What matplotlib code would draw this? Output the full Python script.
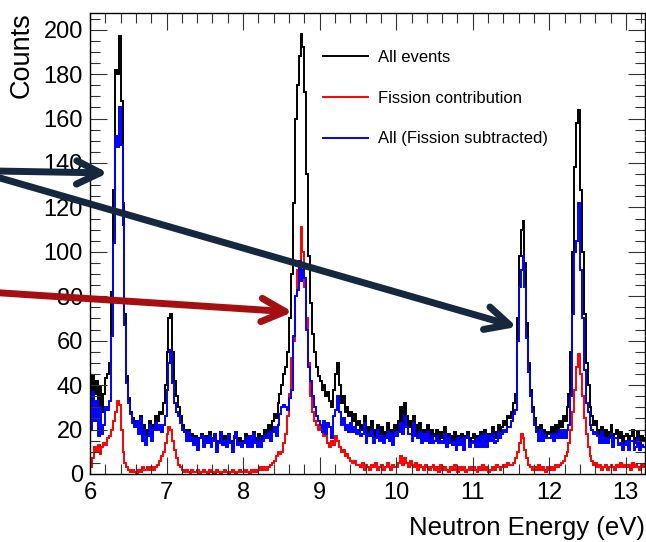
import numpy as np
import matplotlib
matplotlib.use('Agg')
import matplotlib.pyplot as plt
from matplotlib.ticker import MultipleLocator

plt.rcParams['font.family'] = ['Liberation Sans', 'DejaVu Sans']

# histogram binning (eV)
e_lo = 6.0
bin_w = 0.025

# All events, 20 bins per 0.5 eV row
all_events = [
    30, 44, 36, 42, 30, 39, 28, 36, 43, 45, 50, 82, 128, 182, 180, 197, 168, 122, 72, 44,
    34, 28, 25, 22, 24, 20, 26, 18, 22, 15, 20, 24, 18, 22, 26, 24, 28, 27, 32, 40,
    55, 70, 72, 55, 42, 35, 30, 26, 22, 20, 17, 20, 15, 18, 14, 17, 13, 16, 18, 14,
    17, 14, 19, 13, 16, 18, 12, 15, 19, 14, 17, 13, 18, 15, 12, 17, 19, 14, 16, 13,
    15, 18, 13, 17, 14, 19, 16, 13, 18, 15, 17, 20, 18, 22, 19, 24, 27, 25, 32, 36,
    40, 45, 48, 55, 70, 90, 122, 160, 175, 188, 198, 192, 172, 135, 98, 77, 63, 55, 48, 44,
    42, 38, 40, 35, 37, 33, 30, 38, 45, 50, 40, 32, 35, 28, 30, 26, 28, 24, 27, 22,
    24, 20, 22, 26, 18, 21, 19, 24, 17, 20, 22, 18, 21, 16, 19, 23, 18, 20, 17, 22,
    20, 24, 30, 22, 32, 26, 21, 24, 19, 26, 22, 18, 23, 17, 20, 19, 22, 16, 20, 18,
    17, 20, 15, 19, 16, 21, 14, 18, 17, 15, 19, 13, 17, 16, 18, 14, 17, 19, 15, 16,
    18, 14, 17, 15, 19, 16, 20, 15, 18, 17, 21, 16, 19, 22, 18, 21, 24, 22, 26, 25,
    28, 32, 36, 70, 98, 110, 114, 95, 68, 50, 38, 30, 25, 21, 19, 22, 18, 20, 17, 19,
    18, 21, 17, 22, 19, 24, 21, 26, 24, 30, 36, 55, 100, 138, 158, 164, 128, 100, 72, 50,
    40, 30, 26, 22, 24, 20, 18, 21, 17, 20, 16, 19, 22, 15, 18, 20, 16, 19, 14, 17,
    18, 15, 17, 20, 14, 16, 19, 13, 17, 15, 16,
]

fission = [
    3, 7, 12, 10, 13, 9, 12, 14, 13, 16, 17, 20, 24, 28, 33, 31, 20, 10, 5, 3,
    2, 1, 2, 1, 0, 2, 1, 3, 2, 2, 3, 2, 3, 2, 3, 4, 6, 8, 10, 14,
    18, 21, 20, 15, 11, 7, 4, 3, 2, 1, 2, 1, 0, 2, 1, 1, 2, 0, 1, 2,
    1, 0, 2, 1, 1, 0, 2, 1, 0, 1, 2, 1, 0, 1, 2, 1, 0, 1, 2, 1,
    1, 2, 1, 0, 2, 1, 2, 1, 2, 3, 2, 3, 2, 3, 4, 5, 6, 8, 10, 9,
    10, 14, 18, 26, 36, 52, 60, 80, 92, 92, 111, 100, 84, 70, 50, 35, 28, 24, 22, 20,
    22, 20, 17, 18, 14, 12, 15, 13, 17, 15, 12, 10, 11, 8, 9, 7, 6, 5, 6, 4,
    4, 3, 5, 2, 4, 3, 2, 4, 3, 5, 2, 3, 4, 2, 3, 5, 3, 2, 4, 3,
    3, 5, 8, 4, 7, 5, 3, 6, 4, 3, 5, 2, 4, 3, 2, 4, 3, 2, 3, 4,
    2, 3, 1, 4, 2, 3, 2, 1, 3, 2, 4, 2, 1, 3, 2, 3, 1, 2, 3, 2,
    3, 2, 1, 3, 2, 4, 2, 3, 1, 2, 3, 2, 4, 3, 2, 3, 4, 3, 5, 4,
    4, 5, 7, 10, 14, 18, 16, 11, 7, 4, 3, 2, 3, 2, 4, 2, 3, 2, 1, 3,
    2, 3, 2, 4, 3, 4, 5, 6, 8, 10, 14, 20, 28, 38, 48, 54, 45, 35, 25, 18,
    12, 8, 6, 4, 5, 3, 4, 2, 3, 4, 2, 3, 4, 3, 2, 4, 3, 5, 3, 4,
    3, 4, 2, 5, 3, 4, 3, 2, 4, 3, 4,
]

subtracted = [
    20, 37, 24, 33, 17, 30, 18, 22, 30, 29, 33, 62, 104, 152, 147, 165, 148, 112, 67, 41,
    32, 27, 23, 21, 24, 18, 25, 15, 20, 13, 17, 22, 15, 20, 23, 20, 22, 19, 22, 26,
    38, 50, 56, 41, 32, 28, 26, 23, 20, 19, 15, 19, 15, 16, 13, 16, 11, 16, 17, 12,
    16, 14, 17, 12, 15, 18, 10, 14, 19, 13, 15, 12, 18, 14, 10, 16, 19, 13, 14, 12,
    14, 16, 12, 17, 12, 18, 14, 12, 16, 12, 15, 17, 16, 19, 15, 19, 21, 17, 22, 27,
    30, 31, 30, 29, 34, 38, 62, 80, 83, 96, 87, 92, 88, 65, 48, 42, 35, 30, 26, 24,
    22, 19, 24, 18, 23, 21, 16, 26, 29, 35, 28, 22, 25, 20, 22, 19, 23, 19, 21, 18,
    20, 17, 18, 23, 14, 18, 17, 20, 14, 16, 20, 15, 17, 14, 16, 19, 15, 18, 13, 19,
    17, 19, 23, 18, 26, 21, 18, 18, 15, 23, 17, 16, 19, 14, 18, 15, 19, 14, 17, 14,
    15, 17, 14, 15, 14, 18, 12, 17, 14, 13, 15, 11, 16, 13, 16, 11, 16, 17, 12, 14,
    15, 12, 16, 12, 17, 12, 18, 12, 17, 15, 18, 14, 15, 19, 16, 18, 20, 19, 21, 21,
    24, 27, 29, 60, 84, 92, 98, 84, 61, 46, 35, 28, 22, 19, 15, 20, 15, 18, 16, 16,
    16, 18, 15, 18, 16, 20, 16, 20, 16, 20, 22, 35, 72, 100, 105, 122, 92, 70, 47, 32,
    28, 22, 20, 18, 19, 17, 14, 19, 14, 16, 14, 16, 18, 12, 16, 16, 13, 14, 11, 13,
    15, 11, 15, 15, 11, 12, 16, 11, 13, 12, 12,
]

labels = ['All events', 'Fission contribution', 'All (Fission subtracted)']

edges = e_lo + bin_w * np.arange(len(all_events) + 1)

fig = plt.figure(figsize=(6.46, 5.42), dpi=100)
ax = fig.add_axes([90 / 646, 1 - 474 / 542, 555 / 646, 461 / 542])

ax.stairs(all_events, edges, color='black', lw=1.4, label=labels[0])
ax.stairs(fission, edges, color='#ff0000', lw=1.4, label=labels[1])
ax.stairs(subtracted, edges, color='#0000ff', lw=1.4, label=labels[2])

ax.set_xlim(6, 13.25)
ax.set_ylim(0, 207.5)

ax.xaxis.set_major_locator(MultipleLocator(1))
ax.xaxis.set_minor_locator(MultipleLocator(0.2))
ax.yaxis.set_major_locator(MultipleLocator(20))
ax.yaxis.set_minor_locator(MultipleLocator(5))
ax.tick_params(which='both', direction='in', top=True, right=True,
               labelsize=17, width=0.8, color='#333333')
ax.tick_params(which='major', length=12)
ax.tick_params(which='minor', length=7)
ax.tick_params(axis='y', pad=5)
ax.tick_params(axis='x', pad=6)
for sp in ax.spines.values():
    sp.set_linewidth(1.0)

fig.text(22 / 646, 1 - 12 / 542, 'Counts', rotation=90, ha='center', va='top', fontsize=19.5)
fig.text(645 / 646, 1 - 528 / 542, 'Neutron Energy (eV)', ha='right', va='center', fontsize=18.5)

ax.legend(loc='upper left', bbox_to_anchor=(323 / 646, 1 - 50 / 542),
          bbox_transform=fig.transFigure, frameon=False, fontsize=12,
          handlelength=2.7, handletextpad=0.6, labelspacing=1.54, borderpad=0,
          borderaxespad=0, handleheight=0.7)

# annotation arrows coming in from the left edge
navy = '#15283f'
dark_red = '#a60f12'
arrows = [
    ((6.236, 135.5), (-0.008, 1 - 171 / 542), navy),
    ((11.577, 66.2), (-0.008, 1 - 176.5 / 542), navy),
    ((8.651, 72.9), (-0.008, 1 - 292.5 / 542), dark_red),
]
for tip, tail, col in arrows:
    ax.annotate('', xy=tip, xycoords='data', xytext=tail, textcoords='figure fraction',
                annotation_clip=False,
                arrowprops=dict(arrowstyle='->,head_length=0.85,head_width=0.42',
                                mutation_scale=20, lw=5, color=col,
                                shrinkA=0, shrinkB=0, capstyle='round',
                                joinstyle='round'))

fig.savefig('out.png', dpi=100)
